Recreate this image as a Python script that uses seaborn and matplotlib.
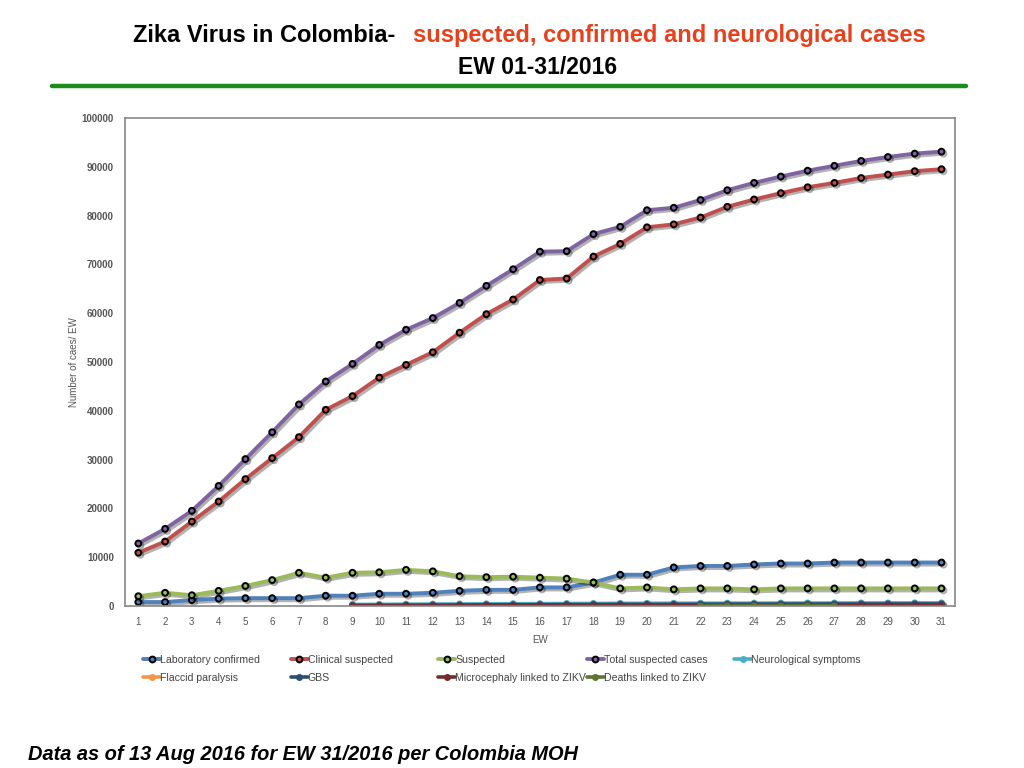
import numpy as np
import pandas as pd
import matplotlib
matplotlib.use("Agg")
import matplotlib.pyplot as plt
import matplotlib.patheffects as pe
from matplotlib.lines import Line2D
import seaborn as sns

###############################################################
# data (cumulative cases per epidemiological week)
weeks = list(range(1, 32))

lab_confirmed = [800, 800, 1200, 1500, 1600, 1600, 1600, 2100, 2100, 2500, 2500,
                 2700, 3100, 3300, 3300, 3800, 3800, 4800, 6400, 6400, 7900,
                 8200, 8200, 8500, 8700, 8700, 8900, 8900, 8900, 8900, 8900]
clinical_suspected = [10900, 13200, 17300, 21400, 26000, 30300, 34600, 40200, 43000,
                      46800, 49400, 52000, 56000, 59800, 62800, 66800, 67100, 71600,
                      74200, 77600, 78200, 79600, 81800, 83300, 84600, 85800, 86700,
                      87700, 88400, 89100, 89500]
suspected = [2000, 2700, 2200, 3100, 4100, 5300, 6800, 5800, 6800, 6900, 7400,
             7100, 6100, 5900, 6000, 5800, 5600, 4800, 3600, 3800, 3400, 3600,
             3600, 3400, 3600, 3600, 3600, 3600, 3600, 3600, 3600]
total_suspected = [12800, 15800, 19500, 24600, 30100, 35600, 41300, 46000, 49600,
                   53500, 56600, 59000, 62100, 65600, 69000, 72600, 72700, 76200,
                   77700, 81100, 81600, 83200, 85200, 86700, 88000, 89200, 90200,
                   91200, 92000, 92700, 93100]
neuro_symptoms = [None] * 8 + [300, 330, 360, 390, 410, 430, 450, 470, 490, 510,
                               530, 540, 550, 560, 570, 580, 590, 600, 600, 610,
                               610, 620, 620]
flaccid_paralysis = [None] * 8 + [40, 50, 60, 70, 80, 90, 100, 110, 120, 130, 140,
                                  150, 160, 170, 180, 190, 200, 210, 220, 230, 240,
                                  250, 260]
gbs = [None] * 8 + [120, 140, 160, 180, 200, 220, 240, 260, 280, 300, 310, 320,
                    330, 340, 350, 360, 370, 380, 390, 400, 400, 410, 410]
microcephaly = [None] * 8 + [5, 5, 5, 6, 6, 7, 8, 8, 9, 10, 11, 12, 13, 14, 15,
                             16, 17, 18, 19, 20, 21, 22, 23]
deaths = [None] * 21 + [2, 3, 3, 4, 4, 4] + [None] * 4

labels = ['Laboratory confirmed', 'Clinical suspected', 'Suspected',
          'Total suspected cases', 'Neurological symptoms', 'Flaccid paralysis',
          'GBS', 'Microcephaly linked to ZIKV', 'Deaths linked to ZIKV']
series = [lab_confirmed, clinical_suspected, suspected, total_suspected,
          neuro_symptoms, flaccid_paralysis, gbs, microcephaly, deaths]
colors = ['#4F81BD', '#C0504D', '#9BBB59', '#8064A2', '#4BACC6', '#F79646',
          '#2C4D75', '#772C2A', '#5F7530']
big = [True, True, True, True, False, False, False, False, False]

###############################################################
sns.set_style("white")
plt.rcParams['font.family'] = ['Liberation Sans', 'DejaVu Sans']

fig = plt.figure(figsize=(10.24, 7.68), dpi=100)
ax = fig.add_axes([0.122, 0.211, 0.8105, 0.6354])

shadow = [pe.SimpleLineShadow(offset=(1.5, -1.5), alpha=0.3, shadow_color='black'),
          pe.Normal()]

handles = []
for lab, vals, col, b in zip(labels, series, colors, big):
    df = pd.DataFrame({'EW': weeks, 'cases': np.array(vals, dtype=float)})
    df = df.dropna()
    if b:
        kw = dict(marker='o', markersize=4.2, markerfacecolor=col,
                  markeredgecolor='black', markeredgewidth=1.4, linewidth=2.8)
    else:
        kw = dict(marker='o', markersize=4, markerfacecolor=col,
                  markeredgecolor=col, markeredgewidth=1.0, linewidth=2.6)
    sns.lineplot(data=df, x='EW', y='cases', color=col, ax=ax, legend=False, **kw)
    ax.lines[-1].set_path_effects(shadow)
    handles.append(Line2D([], [], color=col, **kw))

ax.set_xlim(0.5, 31.5)
ax.set_ylim(0, 100000)
ax.set_xticks(weeks)
ax.set_yticks(np.arange(0, 100001, 10000))
ax.tick_params(axis='both', length=0, labelsize=7, labelcolor='#555555', pad=8)
for t in ax.get_yticklabels():
    t.set_fontweight('bold')
ax.set_xlabel('EW', fontsize=7, color='#555555', labelpad=6)
ax.set_ylabel('Number of caes/ EW', fontsize=7, color='#555555', labelpad=2)
for s in ax.spines.values():
    s.set_color('#888888')
    s.set_linewidth(1.2)

# legend laid out as fixed-width columns, filled row by row
col_x = [0.140, 0.284, 0.428, 0.573, 0.717]
for c in range(5):
    idx = [i for i in range(len(labels)) if i % 5 == c]
    fig.legend([handles[i] for i in idx], [labels[i] for i in idx],
               loc='upper left', bbox_to_anchor=(col_x[c], 0.147), ncol=1,
               frameon=False, fontsize=7.6, labelcolor='#444444', handlelength=1.6,
               handletextpad=0.0, labelspacing=0.75, borderaxespad=0, borderpad=0)

# titles
fig.text(0.13, 0.954, 'Zika Virus in Colombia-', fontsize=17, fontweight='bold',
         ha='left', va='center', color='black')
fig.text(0.403, 0.954, 'suspected, confirmed and neurological cases', fontsize=17,
         fontweight='bold', ha='left', va='center', color='#E8401C')
fig.text(0.525, 0.912, 'EW 01-31/2016', fontsize=16.5, fontweight='bold',
         ha='center', va='center', color='black')
fig.add_artist(Line2D([0.051, 0.943], [0.888, 0.888], color='#1A8C1A', linewidth=3.2,
                      transform=fig.transFigure))
fig.text(0.027, 0.018, 'Data as of 13 Aug 2016 for EW 31/2016 per Colombia MOH',
         fontsize=14.4, fontweight='bold', fontstyle='italic', ha='left', va='center',
         color='black')

plt.savefig('out.png', dpi=100)
